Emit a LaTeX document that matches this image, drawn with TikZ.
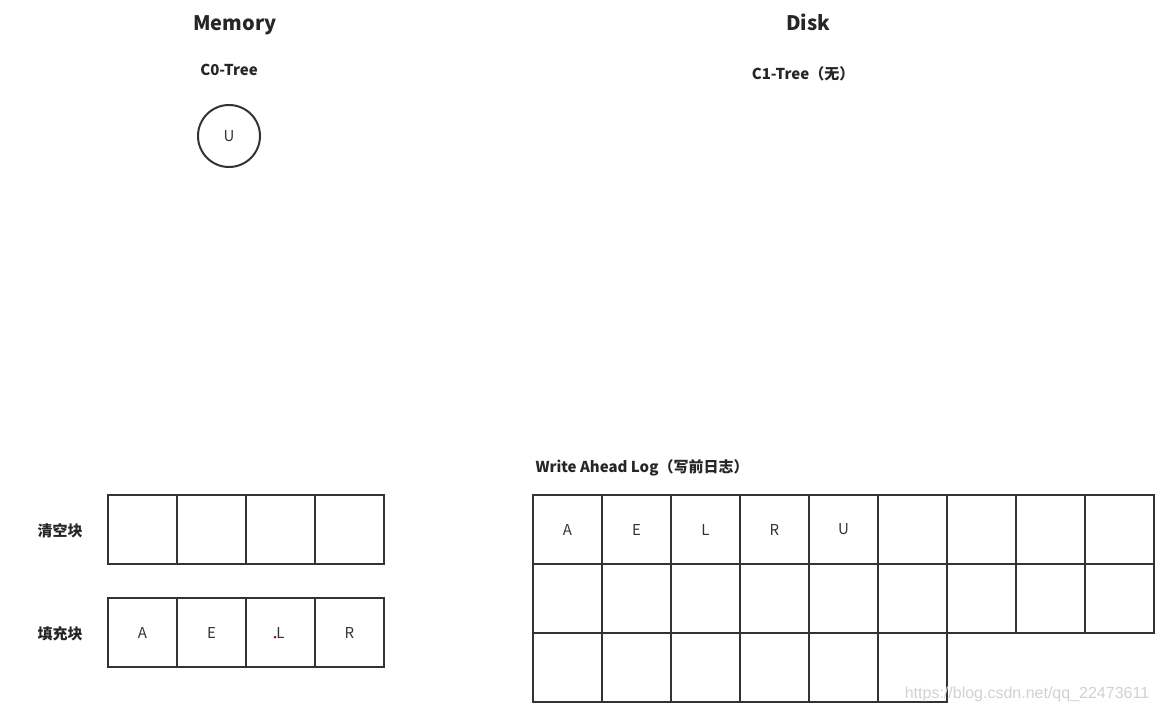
\documentclass[tikz,border=0pt]{standalone}
\usepackage{fontspec}
\setmainfont{Noto Sans CJK SC}
\newfontfamily\wmfont{Liberation Sans}
\begin{document}
\begin{tikzpicture}[x=1pt,y=-1pt,
  cell/.style={draw=black!80, line width=2pt, minimum size=69pt, inner sep=0pt, font=\fontsize{15}{17}\selectfont, text=black!80},
  title/.style={font=\bfseries\fontsize{20}{24}\selectfont, text=black!85, anchor=base},
  sub/.style={font=\bfseries\fontsize{15}{18}\selectfont, text=black!85, anchor=base},
  lab/.style={font=\bfseries\fontsize{15}{18}\selectfont, text=black!85},
  ring/.style={draw=black!80, line width=2pt, circle, minimum size=62pt, inner sep=0pt, font=\fontsize{15}{17}\selectfont, text=black!80}]
\useasboundingbox (0,0) rectangle (1156,712);
\node[title] (mem) at (235,30) {Memory};
\node[sub] (c0) at (229,75) {C0-Tree};
\node[ring] (u) at (229,136) {U};
\node[title] (disk) at (808,30) {Disk};
\node[sub] (c1) at (803,79) {C1-Tree（无）};
\node[lab, anchor=west] (wal) at (532,468) {Write Ahead Log（写前日志）};
\node[lab] (qk) at (60,531) {清空块};
\node[lab] (tc) at (60,634) {填充块};
% left grids
\foreach \i in {0,...,3} {
  \node[cell] (e\i) at (142.5+69*\i,529.5) {};
}
\foreach \t [count=\i from 0] in {A,E,L,R} {
  \node[cell] (f\i) at (142.5+69*\i,632.5) {\t};
}
\fill[red!80!black] (275,637) circle (1.5pt);
% WAL grid
\foreach \t [count=\i from 0] in {A,E,L,R,U,{},{},{},{}} {
  \node[cell] (w1\i) at (567.5+69*\i,529.5) {\t};
}
\foreach \i in {0,...,8} {
  \node[cell] (w2\i) at (567.5+69*\i,598.5) {};
}
\foreach \i in {0,...,5} {
  \node[cell] (w3\i) at (567.5+69*\i,667.5) {};
}
\node[font=\wmfont\fontsize{16}{18}\selectfont, text=black!18] (wm) at (1027,694) {https://blog.csdn.net/qq\_22473611};
\end{tikzpicture}
\end{document}
